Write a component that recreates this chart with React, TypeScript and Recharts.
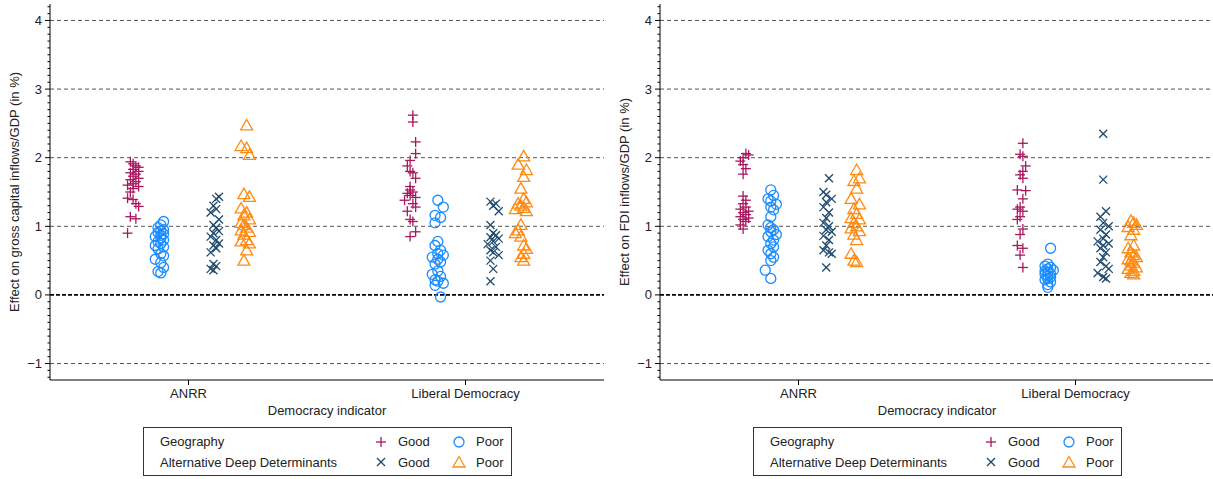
import React from 'react';
import { ScatterChart, Scatter, XAxis, YAxis, ReferenceLine } from 'recharts';

// x: 1 = ANRR, 2 = Liberal Democracy (jittered around the group offsets)
const categories = ['ANRR', 'Liberal Democracy'];
const xTicks = [1, 2];
const yMajorTicks = [-1, 0, 1, 2, 3, 4];

// ---- gross capital inflows / GDP ----
const grossGeoGood = [
  [0.79, 1.94], [0.8, 1.91], [0.81, 1.88], [0.82, 1.86], [0.8, 1.83], [0.82, 1.8], [0.79, 1.78], [0.81, 1.76],
  [0.8, 1.73], [0.82, 1.7], [0.79, 1.68], [0.81, 1.65], [0.8, 1.62], [0.78, 1.6], [0.82, 1.58], [0.8, 1.55],
  [0.79, 1.5], [0.78, 1.41], [0.8, 1.39], [0.81, 1.33], [0.82, 1.29], [0.79, 1.14], [0.81, 1.11], [0.78, 0.9],
  // LD
  [1.81, 2.62], [1.81, 2.52], [1.82, 2.23], [1.82, 2.06], [1.8, 1.96], [1.79, 1.88], [1.8, 1.8], [1.81, 1.78],
  [1.82, 1.7], [1.8, 1.58], [1.8, 1.53], [1.81, 1.5], [1.79, 1.48], [1.8, 1.45], [1.82, 1.42], [1.78, 1.38],
  [1.81, 1.33], [1.82, 1.28], [1.79, 1.22], [1.8, 1.1], [1.81, 1.07], [1.82, 0.92], [1.8, 0.85],
];
const grossGeoPoor = [
  [0.91, 1.07], [0.9, 1.02], [0.89, 0.98], [0.91, 0.95], [0.9, 0.93], [0.89, 0.91], [0.91, 0.89], [0.9, 0.87],
  [0.88, 0.85], [0.9, 0.83], [0.91, 0.8], [0.89, 0.78], [0.9, 0.75], [0.88, 0.72], [0.91, 0.7], [0.89, 0.67],
  [0.9, 0.6], [0.91, 0.57], [0.88, 0.52], [0.9, 0.47], [0.91, 0.4], [0.89, 0.34], [0.9, 0.32],
  // LD
  [1.9, 1.38], [1.92, 1.28], [1.89, 1.16], [1.91, 1.13], [1.89, 1.05], [1.9, 0.78], [1.89, 0.72], [1.91, 0.65],
  [1.9, 0.6], [1.92, 0.58], [1.88, 0.55], [1.9, 0.52], [1.91, 0.48], [1.89, 0.45], [1.9, 0.35], [1.88, 0.3],
  [1.91, 0.27], [1.89, 0.22], [1.9, 0.2], [1.92, 0.17], [1.89, 0.14], [1.91, -0.03],
];
const grossAltGood = [
  [1.11, 1.43], [1.1, 1.4], [1.09, 1.3], [1.1, 1.25], [1.08, 1.2], [1.11, 1.1], [1.09, 1.02], [1.1, 0.98],
  [1.11, 0.93], [1.09, 0.9], [1.08, 0.85], [1.1, 0.8], [1.11, 0.75], [1.09, 0.72], [1.1, 0.68], [1.08, 0.62],
  [1.09, 0.45], [1.1, 0.42], [1.08, 0.38], [1.09, 0.36],
  // LD
  [2.09, 1.36], [2.11, 1.33], [2.1, 1.3], [2.12, 1.22], [2.09, 1.02], [2.1, 0.9], [2.11, 0.87], [2.09, 0.84],
  [2.12, 0.82], [2.1, 0.78], [2.08, 0.74], [2.11, 0.7], [2.09, 0.65], [2.1, 0.62], [2.12, 0.58], [2.09, 0.5],
  [2.1, 0.38], [2.09, 0.2],
];
const grossAltPoor = [
  [1.21, 2.47], [1.19, 2.17], [1.21, 2.14], [1.22, 2.04], [1.2, 1.47], [1.22, 1.43], [1.19, 1.26], [1.21, 1.2],
  [1.2, 1.16], [1.22, 1.1], [1.19, 1.05], [1.2, 1.02], [1.21, 0.98], [1.19, 0.94], [1.22, 0.92], [1.2, 0.88],
  [1.21, 0.8], [1.19, 0.78], [1.22, 0.75], [1.21, 0.65], [1.2, 0.5],
  // LD
  [2.21, 2.02], [2.19, 1.9], [2.22, 1.82], [2.21, 1.72], [2.2, 1.55], [2.21, 1.4], [2.22, 1.35], [2.19, 1.33],
  [2.2, 1.3], [2.21, 1.27], [2.18, 1.25], [2.22, 1.22], [2.2, 1.02], [2.19, 0.94], [2.18, 0.9], [2.2, 0.85],
  [2.21, 0.72], [2.22, 0.67], [2.21, 0.6], [2.2, 0.55], [2.21, 0.5],
];

// ---- FDI inflows / GDP ----
const fdiGeoGood = [
  [0.81, 2.06], [0.82, 2.04], [0.8, 2.0], [0.79, 1.95], [0.8, 1.9], [0.81, 1.84], [0.8, 1.76], [0.8, 1.44],
  [0.81, 1.38], [0.8, 1.33], [0.81, 1.28], [0.79, 1.25], [0.82, 1.22], [0.8, 1.2], [0.81, 1.17], [0.79, 1.14],
  [0.82, 1.12], [0.8, 1.1], [0.81, 1.07], [0.79, 1.02], [0.8, 0.96],
  // LD
  [1.81, 2.21], [1.8, 2.05], [1.81, 2.02], [1.82, 1.88], [1.81, 1.8], [1.8, 1.75], [1.81, 1.7], [1.79, 1.53],
  [1.82, 1.52], [1.81, 1.4], [1.8, 1.28], [1.79, 1.25], [1.81, 1.22], [1.8, 1.14], [1.79, 1.1], [1.81, 0.96],
  [1.8, 0.88], [1.79, 0.72], [1.81, 0.68], [1.8, 0.58], [1.81, 0.4],
];
const fdiGeoPoor = [
  [0.9, 1.53], [0.91, 1.45], [0.89, 1.4], [0.9, 1.37], [0.92, 1.32], [0.9, 1.28], [0.91, 1.24], [0.9, 1.14],
  [0.89, 1.02], [0.9, 0.98], [0.91, 0.95], [0.9, 0.92], [0.92, 0.88], [0.89, 0.85], [0.91, 0.8], [0.9, 0.75],
  [0.91, 0.7], [0.89, 0.65], [0.9, 0.6], [0.91, 0.55], [0.9, 0.5], [0.88, 0.36], [0.9, 0.24],
  // LD
  [1.91, 0.68], [1.9, 0.45], [1.89, 0.42], [1.91, 0.4], [1.9, 0.38], [1.92, 0.36], [1.89, 0.35], [1.9, 0.33],
  [1.91, 0.31], [1.89, 0.3], [1.9, 0.28], [1.91, 0.26], [1.9, 0.24], [1.89, 0.22], [1.91, 0.19], [1.9, 0.15],
  [1.9, 0.11],
];
const fdiAltGood = [
  [1.11, 1.7], [1.09, 1.5], [1.1, 1.46], [1.12, 1.4], [1.1, 1.35], [1.09, 1.28], [1.11, 1.2], [1.1, 1.12],
  [1.09, 1.05], [1.11, 1.0], [1.1, 0.95], [1.12, 0.92], [1.09, 0.86], [1.11, 0.8], [1.1, 0.72], [1.09, 0.65],
  [1.11, 0.62], [1.12, 0.6], [1.1, 0.4],
  // LD
  [2.1, 2.35], [2.1, 1.68], [2.11, 1.22], [2.09, 1.14], [2.1, 1.05], [2.12, 1.0], [2.09, 0.95], [2.11, 0.88],
  [2.1, 0.82], [2.08, 0.78], [2.12, 0.75], [2.1, 0.72], [2.09, 0.68], [2.11, 0.62], [2.1, 0.55], [2.09, 0.48],
  [2.11, 0.42], [2.12, 0.38], [2.08, 0.32], [2.1, 0.26], [2.11, 0.24],
];
const fdiAltPoor = [
  [1.21, 1.82], [1.22, 1.7], [1.2, 1.66], [1.21, 1.55], [1.19, 1.4], [1.22, 1.32], [1.2, 1.25], [1.21, 1.18],
  [1.19, 1.12], [1.22, 1.1], [1.2, 1.05], [1.21, 1.0], [1.19, 0.97], [1.22, 0.93], [1.2, 0.88], [1.21, 0.8],
  [1.19, 0.6], [1.2, 0.5], [1.21, 0.48],
  // LD
  [2.2, 1.08], [2.21, 1.05], [2.22, 1.02], [2.19, 0.99], [2.21, 0.95], [2.2, 0.87], [2.21, 0.72], [2.19, 0.68],
  [2.2, 0.62], [2.21, 0.58], [2.22, 0.55], [2.19, 0.52], [2.2, 0.5], [2.21, 0.47], [2.2, 0.43], [2.22, 0.4],
  [2.19, 0.38], [2.21, 0.35], [2.2, 0.32], [2.21, 0.3],
];

const COLORS = {
  geoGood: '#a8175f',
  geoPoor: '#1a8cff',
  altGood: '#1f4a6e',
  altPoor: '#ff8a12',
};

const FONT = '"Liberation Sans", Arial, Helvetica, sans-serif';
const TEXT = '#222';

// all ticks every 0.1, labels only on integers
const yAllTicks: number[] = [];
for (let i = -12; i <= 42; i++) yAllTicks.push(i / 10);

const toPts = (arr: number[][]) => arr.map(([x, y]) => ({ x, y }));

const PlusMark = ({ cx, cy, color }: any) => (
  <g stroke={color} strokeWidth={1.3}>
    <line x1={cx - 5} x2={cx + 5} y1={cy} y2={cy} />
    <line x1={cx} x2={cx} y1={cy - 5} y2={cy + 5} />
  </g>
);
const CircleMark = ({ cx, cy, color }: any) => (
  <circle cx={cx} cy={cy} r={5} fill="none" stroke={color} strokeWidth={1.3} />
);
const CrossMark = ({ cx, cy, color }: any) => (
  <g stroke={color} strokeWidth={1.3}>
    <line x1={cx - 4} x2={cx + 4} y1={cy - 4} y2={cy + 4} />
    <line x1={cx - 4} x2={cx + 4} y1={cy + 4} y2={cy - 4} />
  </g>
);
const TriangleMark = ({ cx, cy, color }: any) => (
  <polygon
    points={`${cx},${cy - 6} ${cx - 6},${cy + 4.5} ${cx + 6},${cy + 4.5}`}
    fill="none"
    stroke={color}
    strokeWidth={1.3}
  />
);

const YTick = ({ x, y, payload }: any) => {
  const v = payload.value;
  const major = Math.abs(v - Math.round(v)) < 1e-6;
  return (
    <g>
      <line x1={x} x2={x - (major ? 5 : 2.5)} y1={y} y2={y} stroke="#000" strokeWidth={1} />
      {major && (
        <text x={x - 8} y={y} dy="0.35em" textAnchor="end" fontSize={13} fill={TEXT} fontFamily={FONT}>
          {v < 0 ? `\u2212${Math.abs(Math.round(v))}` : Math.round(v)}
        </text>
      )}
    </g>
  );
};

const Legend = () => (
  <svg width={370} height={50} style={{ position: 'absolute', left: 143, top: 427 }}>
    <rect x={0.5} y={0.5} width={368} height={48} fill="#fff" stroke="#333" strokeWidth={1} />
    <g fontSize={13} fill={TEXT} fontFamily={FONT}>
      <text x={17} y={19}>Geography</text>
      <text x={17} y={40}>Alternative Deep Determinants</text>
      <text x={255} y={19}>Good</text>
      <text x={255} y={40}>Good</text>
      <text x={333} y={19}>Poor</text>
      <text x={333} y={40}>Poor</text>
    </g>
    <PlusMark cx={238} cy={15} color={COLORS.geoGood} />
    <CircleMark cx={316} cy={15} color={COLORS.geoPoor} />
    <CrossMark cx={238} cy={35} color={COLORS.altGood} />
    <TriangleMark cx={316} cy={35.5} color={COLORS.altPoor} />
  </svg>
);

interface PanelProps {
  width: number;
  left: number;
  yTitle: string;
  geoGood: number[][];
  geoPoor: number[][];
  altGood: number[][];
  altPoor: number[][];
}

const Panel = ({ width, left, yTitle, geoGood, geoPoor, altGood, altPoor }: PanelProps) => (
  <div style={{ position: 'absolute', left, top: 0, width, height: 479 }}>
    <ScatterChart width={width} height={479} margin={{ top: 4, right: width - 604, bottom: 59, left: 0 }}>
      <XAxis
        type="number"
        dataKey="x"
        domain={[0.5, 2.5]}
        ticks={xTicks}
        interval={0}
        tickFormatter={(v: number) => categories[v - 1]}
        tick={{ fill: TEXT, fontSize: 13, fontFamily: FONT }}
        tickSize={5}
        tickMargin={4}
        axisLine={{ stroke: '#000' }}
        tickLine={{ stroke: '#000' }}
        height={40}
        label={({ viewBox }: any) => (
          <text
            x={viewBox.x + viewBox.width / 2}
            y={viewBox.y + 35}
            textAnchor="middle"
            fontSize={13}
            fill={TEXT}
            fontFamily={FONT}
          >
            Democracy indicator
          </text>
        )}
      />
      <YAxis
        type="number"
        dataKey="y"
        domain={[-1.24, 4.24]}
        ticks={yAllTicks}
        interval={0}
        tick={<YTick />}
        tickSize={0}
        tickMargin={0}
        tickLine={false}
        axisLine={{ stroke: '#000' }}
        width={50}
        label={({ viewBox }: any) => {
          const cx = 14;
          const cy = viewBox.y + viewBox.height / 2;
          return (
            <text
              x={cx}
              y={cy}
              transform={`rotate(-90, ${cx}, ${cy})`}
              textAnchor="middle"
              dy="0.35em"
              fontSize={13}
              fill={TEXT}
              fontFamily={FONT}
            >
              {yTitle}
            </text>
          );
        }}
      />
      {yMajorTicks.map((v) => (
        <ReferenceLine
          key={v}
          y={v}
          stroke={v === 0 ? '#000' : '#555'}
          strokeWidth={v === 0 ? 1.6 : 1}
          strokeDasharray={v === 0 ? '4 2' : '4 3'}
        />
      ))}
      <Scatter data={toPts(geoGood)} isAnimationActive={false} shape={(p: any) => <PlusMark {...p} color={COLORS.geoGood} />} />
      <Scatter data={toPts(geoPoor)} isAnimationActive={false} shape={(p: any) => <CircleMark {...p} color={COLORS.geoPoor} />} />
      <Scatter data={toPts(altGood)} isAnimationActive={false} shape={(p: any) => <CrossMark {...p} color={COLORS.altGood} />} />
      <Scatter data={toPts(altPoor)} isAnimationActive={false} shape={(p: any) => <TriangleMark {...p} color={COLORS.altPoor} />} />
    </ScatterChart>
    <Legend />
  </div>
);

export default function App() {
  return (
    <div style={{ position: 'absolute', left: 0, top: 0, width: 1213, height: 479, background: '#fff', overflow: 'hidden' }}>
      <Panel
        width={606}
        left={0}
        yTitle="Effect on gross capital inflows/GDP (in %)"
        geoGood={grossGeoGood}
        geoPoor={grossGeoPoor}
        altGood={grossAltGood}
        altPoor={grossAltPoor}
      />
      <Panel
        width={604}
        left={610}
        yTitle="Effect on FDI inflows/GDP (in %)"
        geoGood={fdiGeoGood}
        geoPoor={fdiGeoPoor}
        altGood={fdiAltGood}
        altPoor={fdiAltPoor}
      />
    </div>
  );
}
